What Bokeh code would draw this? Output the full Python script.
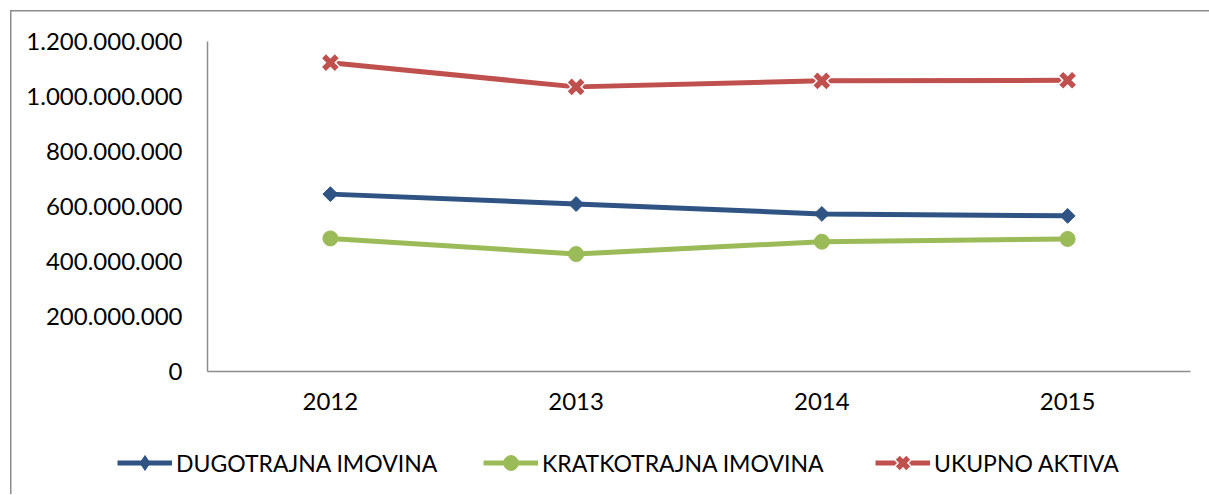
from bokeh.plotting import figure
from bokeh.layouts import column
from bokeh.models import (FactorRange, Range1d, FixedTicker, Legend, LegendItem)
from bokeh.embed import file_html
from bokeh.resources import INLINE

# ---- data ----
years = ["2012", "2013", "2014", "2015"]
dugotrajna = [645_000_000, 609_000_000, 573_000_000, 566_000_000]
kratkotrajna = [484_000_000, 427_000_000, 472_000_000, 482_000_000]
ukupno = [1_123_000_000, 1_035_000_000, 1_057_000_000, 1_059_000_000]

y_ticks = [0, 200_000_000, 400_000_000, 600_000_000, 800_000_000, 1_000_000_000, 1_200_000_000]
y_tick_labels = ["0", "200.000.000", "400.000.000", "600.000.000", "800.000.000",
                 "1.000.000.000", "1.200.000.000"]

series_names = ["DUGOTRAJNA IMOVINA", "KRATKOTRAJNA IMOVINA", "UKUPNO AKTIVA"]

BLUE = "#2F5483"
GREEN = "#9BBB59"
RED = "#C0504D"
AXIS = "#8C8C8C"
FONT = "Lato"
FS = "24px"
LFS = "23px"

W = 1209
H_MAIN = 430
H_LEG = 64

p = figure(width=W, height=H_MAIN, x_range=FactorRange(factors=years),
           y_range=Range1d(0, 1_200_000_000), output_backend="svg",
           toolbar_location=None, min_border_left=207, min_border_right=19,
           min_border_top=41, min_border_bottom=59)
p.outline_line_color = None
p.grid.grid_line_color = None
p.background_fill_color = "white"
p.border_fill_alpha = 0
p.frame_align = False

for ax in (p.xaxis[0], p.yaxis[0]):
    ax.axis_line_color = AXIS
    ax.axis_line_width = 1.5
    ax.major_tick_line_color = None
    ax.minor_tick_line_color = None
    ax.major_tick_out = 0
    ax.major_tick_in = 0
    ax.major_label_text_font = FONT
    ax.major_label_text_font_size = FS
    ax.major_label_text_color = "#000000"

p.yaxis.ticker = FixedTicker(ticks=y_ticks)
p.yaxis.major_label_overrides = {t: l for t, l in zip(y_ticks, y_tick_labels)}
p.yaxis.major_label_standoff = 25
p.xaxis.major_label_standoff = 21

def draw_series(fig, xs, ys, color, marker, visible=True, legend=False):
    ln = fig.line(xs, ys, line_color=color, line_width=5, visible=visible)
    if marker == "diamond":
        if legend:
            ms = [fig.scatter(xs, ys, marker="diamond", size=15,
                              fill_color=color, line_color=color, visible=visible)]
        else:
            ms = [fig.scatter(xs, ys, marker="square", size=10.5, angle=0.785398,
                              fill_color=color, line_color=color, visible=visible)]
    elif marker == "circle":
        ms = [fig.scatter(xs, ys, marker="circle", size=15,
                          fill_color=color, line_color=color, visible=visible)]
    else:
        ms = [fig.scatter(xs, ys, marker="x", size=18, line_color="white",
                          line_width=8.5, visible=visible),
              fig.scatter(xs, ys, marker="x", size=18, line_color=color,
                          line_width=5.5, visible=visible)]
    return [ln] + ms

colors = [BLUE, GREEN, RED]
markers = ["diamond", "circle", "x"]
series = [dugotrajna, kratkotrajna, ukupno]
for ys, c, m in zip(series, colors, markers):
    draw_series(p, years, ys, c, m)

# ---- legend strip (separate figure so the legend is not clipped by the frame) ----
pl = figure(width=W, height=H_LEG, output_backend="svg", toolbar_location=None,
            x_axis_type=None, y_axis_type=None, min_border=0,
            x_range=FactorRange(factors=years), y_range=Range1d(0, 1_200_000_000))
pl.outline_line_color = None
pl.grid.grid_line_color = None
pl.background_fill_alpha = 0
pl.border_fill_alpha = 0
pl.frame_align = False

legend_x = [117, 483, 875]
for name, ys, c, m, lx in zip(series_names, series, colors, markers, legend_x):
    rs = draw_series(pl, years, ys, c, m, visible=False, legend=True)
    lg = Legend(items=[LegendItem(label=name, renderers=rs)], location=(lx, 13),
                orientation="horizontal", glyph_width=55, glyph_height=37,
                label_standoff=4, padding=0, margin=0, border_line_color=None,
                background_fill_alpha=0, inactive_fill_alpha=0,
                label_text_font=FONT, label_text_font_size=LFS,
                label_text_color="#000000")
    pl.add_layout(lg, "center")

layout = column(p, pl, spacing=0, width=W, height=H_MAIN + H_LEG, styles={
    "background-image": "linear-gradient(#8c8c8c,#8c8c8c), linear-gradient(#8c8c8c,#8c8c8c)",
    "background-size": "1.5px 2000px, 2000px 1.5px",
    "background-position": "10px 10px, 10px 10px",
    "background-repeat": "no-repeat, no-repeat",
    "background-color": "white",
    "overflow": "hidden",
})

open("out.html", "w").write(file_html(layout, INLINE))
